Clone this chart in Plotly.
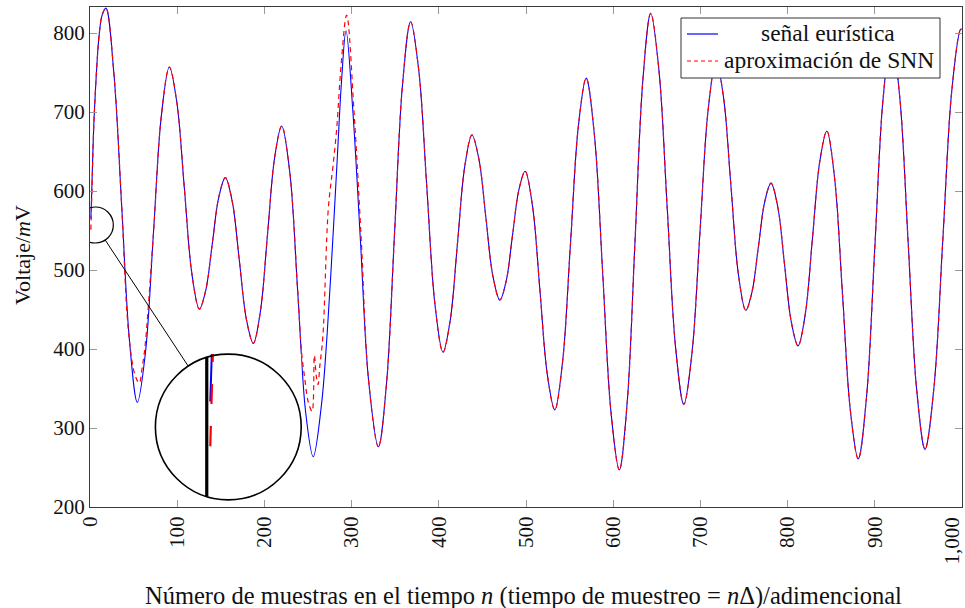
import math
import plotly.graph_objects as go

# ---------------------------------------------------------------------------
# Data: sample index n and voltage in mV
# ---------------------------------------------------------------------------
signal_n = [1, 2, 5, 10.7, 14, 18.3, 27.3, 36.3, 45.3, 54.3, 63.5, 72.65,
            81.8, 91, 99.6, 108.2, 116.8, 125.4, 132.85, 140.3, 147.75, 155.2,
            163.2, 171.25, 179.3, 187.3, 195.4, 203.55, 211.7, 219.8, 229,
            238.2, 247.3, 256, 265.5, 272, 278, 283.5, 288.5, 293.6, 301.5,
            310, 319.5, 330.7, 339.95, 349.2, 358.45, 367.7, 376.98, 386.25,
            395.53, 404.8, 413.1, 421.4, 429.7, 438, 446, 454, 462, 470,
            477.25, 484.5, 491.75, 499, 507.5, 516, 524.5, 533, 542, 551, 560,
            569, 578.5, 588, 597.5, 607, 616, 625, 634, 643, 652.5, 662,
            671.5, 681, 690.25, 699.5, 708.75, 718, 726.5, 735, 743.5, 752,
            759.25, 766.5, 773.75, 781, 788.75, 796.5, 804.25, 812, 820.25,
            828.5, 836.75, 845, 854, 863, 872, 881, 890.5, 900, 909.5, 919,
            928.65, 938.3, 947.95, 957.6, 967.8, 978.05, 988.3, 998.5, 1000]
signal_mv = [565, 600, 700, 800, 823, 831.6, 750, 582, 410, 332.5, 394.6,
             544.75, 694.9, 757, 712.1, 603.8, 495.5, 450.6, 475, 533.8, 592.6,
             617, 586.3, 512.1, 437.9, 407.2, 447.5, 544.75, 642, 682.3, 625,
             473, 320, 263.7, 330, 420, 530, 640, 740, 803, 700, 540, 360,
             276.3, 355.1, 545.3, 735.5, 814.3, 753.1, 605.15, 457.2, 396,
             436.3, 533.5, 630.7, 671, 640.4, 566.5, 492.6, 462, 485.9, 543.5,
             601.1, 625, 580.8, 474, 367.2, 323, 384.5, 533, 681.5, 743, 670.4,
             495, 319.6, 247, 331.6, 536, 740.4, 825, 752.5, 577.5, 402.5, 330,
             393.7, 547.5, 701.3, 765, 718.7, 607, 495.3, 449, 472.6, 529.5,
             586.4, 610, 579.8, 507, 434.2, 404, 443.8, 540, 636.2, 676, 615.2,
             468.5, 321.8, 261, 339.2, 528, 716.8, 795, 718.6, 534, 349.4, 273,
             350.9, 539, 727.1, 805, 804.8]

snn_n = [1, 2, 5, 10.7, 14, 18.3, 27.3, 36.3, 44, 51.6, 56.5, 60, 63, 72.65,
         81.8, 91, 99.6, 108.2, 116.8, 125.4, 132.85, 140.3, 147.75, 155.2,
         163.2, 171.25, 179.3, 187.3, 195.4, 203.55, 211.7, 219.8, 229, 238.2,
         242.7, 246, 249, 251, 254.7, 257.3, 259.5, 261.5, 263.5, 267, 273.3,
         278.5, 283, 287.8, 294.3, 302.8, 311, 319.5, 330.7, 339.95, 349.2,
         358.45, 367.7, 376.98, 386.25, 395.53, 404.8, 413.1, 421.4, 429.7,
         438, 446, 454, 462, 470, 477.25, 484.5, 491.75, 499, 507.5, 516,
         524.5, 533, 542, 551, 560, 569, 578.5, 588, 597.5, 607, 616, 625,
         634, 643, 652.5, 662, 671.5, 681, 690.25, 699.5, 708.75, 718, 726.5,
         735, 743.5, 752, 759.25, 766.5, 773.75, 781, 788.75, 796.5, 804.25,
         812, 820.25, 828.5, 836.75, 845, 854, 863, 872, 881, 890.5, 900,
         909.5, 919, 928.65, 938.3, 947.95, 957.6, 967.8, 978.05, 988.3, 998.5,
         1000]
snn_mv = [551, 590, 700, 800, 823, 831.6, 750, 582, 424, 367, 357, 378, 402,
          544.75, 694.9, 757, 712.1, 603.8, 495.5, 450.6, 475, 533.8, 592.6,
          617, 586.3, 512.1, 437.9, 407.2, 447.5, 544.75, 642, 682.3, 625, 473,
          395, 365, 340, 330, 321, 392, 366, 355, 378, 415, 578, 630, 680, 757,
          822.8, 700, 540, 360, 276.3, 355.1, 545.3, 735.5, 814.3, 753.1,
          605.15, 457.2, 396, 436.3, 533.5, 630.7, 671, 640.4, 566.5, 492.6,
          462, 485.9, 543.5, 601.1, 625, 580.8, 474, 367.2, 323, 384.5, 533,
          681.5, 743, 670.4, 495, 319.6, 247, 331.6, 536, 740.4, 825, 752.5,
          577.5, 402.5, 330, 393.7, 547.5, 701.3, 765, 718.7, 607, 495.3, 449,
          472.6, 529.5, 586.4, 610, 579.8, 507, 434.2, 404, 443.8, 540, 636.2,
          676, 615.2, 468.5, 321.8, 261, 339.2, 528, 716.8, 795, 718.6, 534,
          349.4, 273, 350.9, 539, 727.1, 805, 804.8]

x_tick_vals = [0, 100, 200, 300, 400, 500, 600, 700, 800, 900, 1000]
x_tick_text = ["0", "100", "200", "300", "400", "500", "600", "700", "800",
               "900", "1,000"]
y_tick_vals = [200, 300, 400, 500, 600, 700, 800]

series_names = ["señal eurística", "aproximación de SNN"]
x_title = ("Número de muestras en el tiempo <i>n</i> "
           "(tiempo de muestreo = <i>n</i>Δ)/adimencional")
y_title = "Voltaje/<i>m</i>V"

# ---------------------------------------------------------------------------
# Geometry
# ---------------------------------------------------------------------------
W, H = 965, 608
ML, MR, MT, MB = 90, 3, 7, 101
X_RANGE = [0, 1000]
Y_RANGE = [200, 833]
PW, PH = W - ML - MR, H - MT - MB
px_n = PW / (X_RANGE[1] - X_RANGE[0])
px_mv = PH / (Y_RANGE[1] - Y_RANGE[0])
y_bottom_px = MT + PH

FONT = "Liberation Serif"
TXT = "#111111"
BLUE, RED = "#0000ff", "#ff0000"
LINE_MAIN = dict(shape="spline", smoothing=1.0)


def to_px(n, mv):
    return ML + (n - X_RANGE[0]) * px_n, y_bottom_px - (mv - Y_RANGE[0]) * px_mv


def paper(px, py):
    return (px - ML) / PW, (y_bottom_px - py) / PH


# magnifier ("spy") settings
spy_n, spy_mv = 6.1, 557.0   # centre of the magnified spot
spy_r = 18.0                  # radius of the small circle, px
mag = 4.05
lens_cx, lens_cy = 228.3, 427.0
lens_r = spy_r * mag

fig = go.Figure()

fig.add_trace(go.Scatter(
    x=signal_n, y=signal_mv, mode="lines", name=series_names[0],
    showlegend=False, line=dict(color=BLUE, width=1.1, **LINE_MAIN)))
fig.add_trace(go.Scatter(
    x=snn_n, y=snn_mv, mode="lines", name=series_names[1],
    showlegend=False,
    line=dict(color=RED, width=1.2, dash="5px,4px", **LINE_MAIN)))

# magnified view
fig.add_trace(go.Scatter(
    x=signal_n, y=signal_mv, mode="lines", showlegend=False,
    xaxis="x2", yaxis="y2", hoverinfo="skip",
    line=dict(color=BLUE, width=2, **LINE_MAIN)))
fig.add_trace(go.Scatter(
    x=snn_n, y=snn_mv, mode="lines", showlegend=False,
    xaxis="x2", yaxis="y2", hoverinfo="skip",
    line=dict(color=RED, width=2.2, dash="20px,22px", **LINE_MAIN)))

x2_half = lens_r / mag / px_n
y2_half = lens_r / mag / px_mv
lx0, ly1 = paper(lens_cx - lens_r, lens_cy - lens_r)
lx1, ly0 = paper(lens_cx + lens_r, lens_cy + lens_r)

# connector between the two circles
sx, sy = to_px(spy_n, spy_mv)
dx, dy = lens_cx - sx, lens_cy - sy
dist = math.hypot(dx, dy)
ux, uy = dx / dist, dy / dist
c0 = paper(sx + ux * spy_r, sy + uy * spy_r)
c1 = paper(lens_cx - ux * lens_r, lens_cy - uy * lens_r)

# chord of the magnified y-axis line inside the lens
axis_off = (X_RANGE[0] - spy_n) * px_n * mag
chord = math.sqrt(max(lens_r ** 2 - axis_off ** 2, 0)) / (2 * lens_r)

shapes = [
    dict(type="circle", xref="x", yref="y",
         x0=spy_n - spy_r / px_n, x1=spy_n + spy_r / px_n,
         y0=spy_mv - spy_r / px_mv, y1=spy_mv + spy_r / px_mv,
         line=dict(color="black", width=1.2)),
    dict(type="line", xref="paper", yref="paper",
         x0=c0[0], y0=c0[1], x1=c1[0], y1=c1[1],
         line=dict(color="black", width=1)),
    dict(type="line", xref="x2", yref="y2 domain",
         x0=X_RANGE[0], x1=X_RANGE[0], y0=0.5 - chord, y1=0.5 + chord,
         line=dict(color="black", width=3.2)),
    dict(type="circle", xref="paper", yref="paper",
         x0=lx0, x1=lx1, y0=ly0, y1=ly1,
         line=dict(color="black", width=1.6)),
]

# legend box (top right)
leg_l, leg_r, leg_t, leg_b = 681, 940, 18, 78
row_y = [34, 61]
text_left = [759, 722]
bx0, by1 = paper(leg_l, leg_t)
bx1, by0 = paper(leg_r, leg_b)
shapes.append(dict(type="rect", xref="paper", yref="paper", x0=bx0, x1=bx1,
                   y0=by0, y1=by1, fillcolor="white",
                   line=dict(color="#333333", width=1), layer="above"))
annotations = []
for i, (name, colour, dash) in enumerate(
        zip(series_names, [BLUE, RED], ["solid", "4px,3px"])):
    lx_a, ly_a = paper(687, row_y[i])
    lx_b, _ = paper(718, row_y[i])
    shapes.append(dict(type="line", xref="paper", yref="paper",
                       x0=lx_a, x1=lx_b, y0=ly_a, y1=ly_a, layer="above",
                       line=dict(color=colour, width=1.2, dash=dash)))
    tx, ty = paper(text_left[i], row_y[i] - 1)
    annotations.append(dict(text=name, xref="paper", yref="paper", x=tx,
                            y=ty, xanchor="left", yanchor="middle",
                            showarrow=False,
                            font=dict(family=FONT, size=23.5, color=TXT)))

# axis titles
tx, ty = paper(523.5, 596)
annotations.append(dict(text=x_title, xref="paper", yref="paper", x=tx, y=ty,
                        xanchor="center", yanchor="middle", showarrow=False,
                        font=dict(family=FONT, size=24.5, color=TXT)))
tx, ty = paper(22, 255)
annotations.append(dict(text=y_title, xref="paper", yref="paper", x=tx, y=ty,
                        xanchor="center", yanchor="middle", showarrow=False,
                        textangle=-90,
                        font=dict(family=FONT, size=22, color=TXT)))

# the last x label sits at the right edge of the page: pull it just inside
last_label = x_tick_text[-1]
shown_tick_text = x_tick_text[:-1] + [""]
tx, ty = paper(964, 516)
annotations.append(dict(text=last_label, xref="paper", yref="paper",
                        x=tx, y=ty, xanchor="right", yanchor="top",
                        textangle=-90, showarrow=False, borderpad=0,
                        font=dict(family=FONT, size=21, color=TXT)))

axis_common = dict(
    showgrid=False, zeroline=False, showline=True, linecolor="#3a3a3a",
    linewidth=1.2, mirror="allticks", ticks="inside", ticklen=7,
    tickcolor="#9a9a9a", tickwidth=1,
    tickfont=dict(family=FONT, size=21, color=TXT),
    automargin=False,
)

fig.update_layout(
    width=W, height=H,
    margin=dict(l=ML, r=MR, t=MT, b=MB),
    paper_bgcolor="white", plot_bgcolor="white",
    font=dict(family=FONT, size=21, color=TXT),
    showlegend=False,
    xaxis=dict(range=X_RANGE, tickvals=x_tick_vals, ticktext=shown_tick_text,
               tickangle=-90, **axis_common),
    yaxis=dict(range=Y_RANGE, tickvals=y_tick_vals, **axis_common),
    xaxis2=dict(domain=[lx0, lx1], range=[spy_n - x2_half, spy_n + x2_half],
                anchor="y2", visible=False),
    yaxis2=dict(domain=[ly0, ly1], range=[spy_mv - y2_half, spy_mv + y2_half],
                anchor="x2", visible=False),
    shapes=shapes,
    annotations=annotations,
)

fig.write_html("out.html")
